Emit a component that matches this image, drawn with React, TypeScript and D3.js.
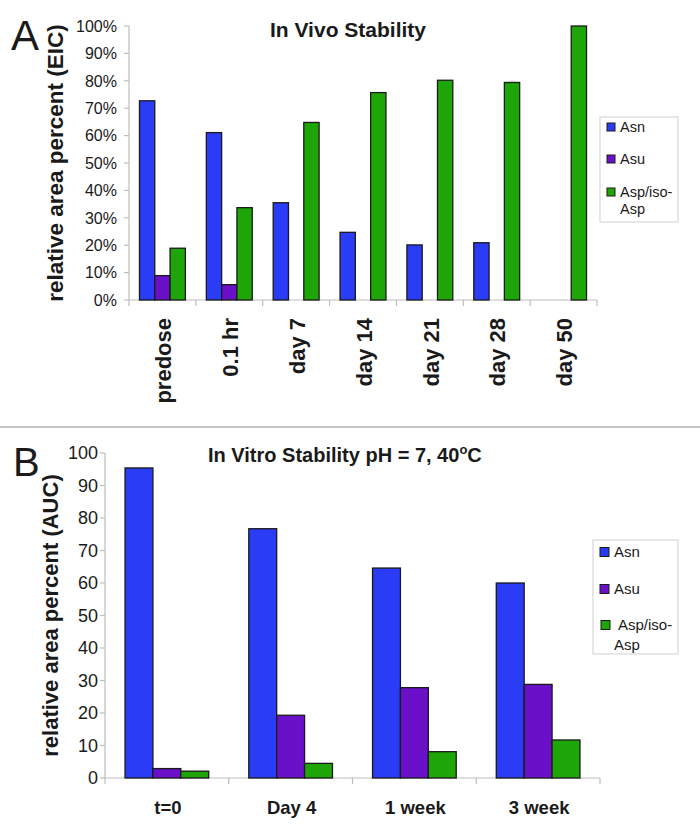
import React from "react";
import * as d3 from "d3";

const seriesNames = ["Asn", "Asu", "Asp/iso-Asp"];
const seriesColors = ["#2a3cf6", "#6a10c8", "#1ea508"];

const catsA = ["predose", "0.1 hr", "day 7", "day 14", "day 21", "day 28", "day 50"];
const asnA = [72.7, 61.1, 35.5, 24.7, 20.1, 20.9, 0];
const asuA = [8.9, 5.6, 0, 0, 0, 0, 0];
const aspA = [18.9, 33.7, 64.8, 75.7, 80.2, 79.4, 100];
const ticksA = [0, 10, 20, 30, 40, 50, 60, 70, 80, 90, 100];

const catsB = ["t=0", "Day 4", "1 week", "3 week"];
const asnB = [95.4, 76.7, 64.6, 60.0];
const asuB = [2.9, 19.3, 27.8, 28.8];
const aspB = [2.1, 4.5, 8.1, 11.7];
const ticksB = [0, 10, 20, 30, 40, 50, 60, 70, 80, 90, 100];

const FONT = "Liberation Sans, Arial, sans-serif";
const AXIS = "#bdbdbd";
const TXT = "#1a1a1a";

function Bars({ cats, vals, x, x1, y }: any) {
  return (
    <g>
      {cats.map((c: string, i: number) =>
        seriesNames.map((s, j) => {
          const v = vals[j][i];
          if (!v) return null;
          return (
            <rect
              key={c + s}
              x={x(c) + x1(s)}
              y={y(v)}
              width={x1.bandwidth()}
              height={y(0) - y(v)}
              fill={seriesColors[j]}
              stroke="#1a1a1a"
              strokeWidth={1.3}
            />
          );
        })
      )}
    </g>
  );
}

export default function App() {
  // Panel A
  const yA = d3.scaleLinear().domain([0, 100]).range([300, 26]);
  const xA = d3.scaleBand().domain(catsA).range([129, 597]).padding(0);
  const x1A = d3.scaleBand().domain(seriesNames).range([0, xA.bandwidth()]).paddingInner(0).paddingOuter(0.685);
  const valsA = [asnA, asuA, aspA];

  // Panel B
  const yB = d3.scaleLinear().domain([0, 100]).range([778, 453]);
  const xB = d3.scaleBand().domain(catsB).range([105, 600]).padding(0);
  const x1B = d3.scaleBand().domain(seriesNames).range([0, xB.bandwidth()]).paddingInner(0).paddingOuter(0.718);
  const valsB = [asnB, asuB, aspB];

  const legendA = [
    { lines: ["Asn"], y: 127 },
    { lines: ["Asu"], y: 159 },
    { lines: ["Asp/iso-", "Asp"], y: 192 },
  ];
  const legendB = [
    { lines: ["Asn"], y: 552, dx: 0 },
    { lines: ["Asu"], y: 589, dx: 0 },
    { lines: ["Asp/iso-", "Asp"], y: 625, dx: 4 },
  ];

  return (
    <svg
      width={700}
      height={840}
      style={{ position: "absolute", left: 0, top: 0, background: "#fff" }}
      fontFamily={FONT}
    >
      <rect x={0} y={0} width={700} height={840} fill="#fff" />

      {/* ===== Panel A ===== */}
      <text x={11} y={50} fontSize={42} fill={TXT}>A</text>
      <text x={348} y={37} fontSize={21} fontWeight="bold" textAnchor="middle" fill={TXT}>
        In Vivo Stability
      </text>
      <text
        transform={`translate(55,${(yA(0) + yA(100)) / 2}) rotate(-90)`}
        fontSize={22.5}
        fontWeight="bold"
        textAnchor="middle"
        dy="0.35em"
        fill={TXT}
      >
        relative area percent (EIC)
      </text>
      {/* y axis */}
      <line x1={129} x2={129} y1={yA(100)} y2={yA(0)} stroke={AXIS} strokeWidth={1.2} />
      {ticksA.map((t) => (
        <g key={t}>
          <line x1={124} x2={129} y1={yA(t)} y2={yA(t)} stroke={AXIS} strokeWidth={1.2} />
          <text x={117} y={yA(t)} dy="0.36em" textAnchor="end" fontSize={16} fill={TXT}>
            {t}%
          </text>
        </g>
      ))}
      {/* x axis */}
      <line x1={129} x2={597} y1={yA(0)} y2={yA(0)} stroke={AXIS} strokeWidth={1.2} />
      {catsA.map((c) => (
        <line key={c} x1={xA(c)! + xA.bandwidth()} x2={xA(c)! + xA.bandwidth()} y1={yA(0)} y2={yA(0) + 6} stroke={AXIS} strokeWidth={1.2} />
      ))}
      <line x1={129} x2={129} y1={yA(0)} y2={yA(0) + 6} stroke={AXIS} strokeWidth={1.2} />
      {catsA.map((c) => (
        <text
          key={c}
          transform={`translate(${xA(c)! + xA.bandwidth() / 2 + 1},318) rotate(-90)`}
          textAnchor="end"
          dy="0.35em"
          fontSize={22}
          fontWeight="bold"
          fill={TXT}
        >
          {c}
        </text>
      ))}
      <Bars cats={catsA} vals={valsA} x={xA} x1={x1A} y={yA} />
      {/* legend A */}
      <rect x={600} y={117} width={78} height={105} fill="#fff" stroke="#d0d0d0" strokeWidth={1} />
      {legendA.map((l, i) => (
        <g key={i}>
          <rect x={607} y={l.y - 4} width={8} height={8} fill={seriesColors[i]} stroke="#1a1a1a" strokeWidth={1} />
          {l.lines.map((ln, k) => (
            <text key={k} x={620} y={l.y + k * 17} dy="0.35em" fontSize={14.5} fill={TXT}>
              {ln}
            </text>
          ))}
        </g>
      ))}

      {/* separator */}
      <line x1={0} x2={700} y1={427} y2={427} stroke="#8a8a8a" strokeWidth={1.2} />

      {/* ===== Panel B ===== */}
      <text x={13} y={476} fontSize={40} fill={TXT}>B</text>
      <text x={208} y={462} fontSize={20} fontWeight="bold" fill={TXT}>
        In Vitro Stability pH = 7, 40
        <tspan fontSize={13} dy={-8}>o</tspan>
        <tspan dy={8}>C</tspan>
      </text>
      <text
        transform={`translate(50,${(yB(0) + yB(100)) / 2}) rotate(-90)`}
        fontSize={22}
        fontWeight="bold"
        textAnchor="middle"
        dy="0.35em"
        fill={TXT}
      >
        relative area percent (AUC)
      </text>
      <line x1={105} x2={105} y1={yB(100)} y2={yB(0)} stroke={AXIS} strokeWidth={1.2} />
      {ticksB.map((t) => (
        <g key={t}>
          <line x1={100} x2={105} y1={yB(t)} y2={yB(t)} stroke={AXIS} strokeWidth={1.2} />
          <text x={98} y={yB(t)} dy="0.36em" textAnchor="end" fontSize={18} fill={TXT}>
            {t}
          </text>
        </g>
      ))}
      <line x1={105} x2={600} y1={yB(0)} y2={yB(0)} stroke={AXIS} strokeWidth={1.2} />
      {catsB.map((c) => (
        <line key={c} x1={xB(c)! + xB.bandwidth()} x2={xB(c)! + xB.bandwidth()} y1={yB(0)} y2={yB(0) + 6} stroke={AXIS} strokeWidth={1.2} />
      ))}
      <line x1={105} x2={105} y1={yB(0)} y2={yB(0) + 6} stroke={AXIS} strokeWidth={1.2} />
      {catsB.map((c) => (
        <text
          key={c}
          x={xB(c)! + xB.bandwidth() / 2 + 1}
          y={808}
          dy="0.35em"
          textAnchor="middle"
          fontSize={18.5}
          fontWeight="bold"
          fill={TXT}
        >
          {c}
        </text>
      ))}
      <Bars cats={catsB} vals={valsB} x={xB} x1={x1B} y={yB} />
      <rect x={593} y={540} width={85} height={114} fill="#fff" stroke="#d0d0d0" strokeWidth={1} />
      {legendB.map((l, i) => (
        <g key={i}>
          <rect x={600 + (i === 2 ? 1 : 0)} y={l.y - 4.5} width={9} height={9} fill={seriesColors[i]} stroke="#1a1a1a" strokeWidth={1} />
          {l.lines.map((ln, k) => (
            <text key={k} x={614 + (k === 0 ? l.dx : 0)} y={l.y + k * 20} dy="0.35em" fontSize={15} fill={TXT}>
              {ln}
            </text>
          ))}
        </g>
      ))}
    </svg>
  );
}
